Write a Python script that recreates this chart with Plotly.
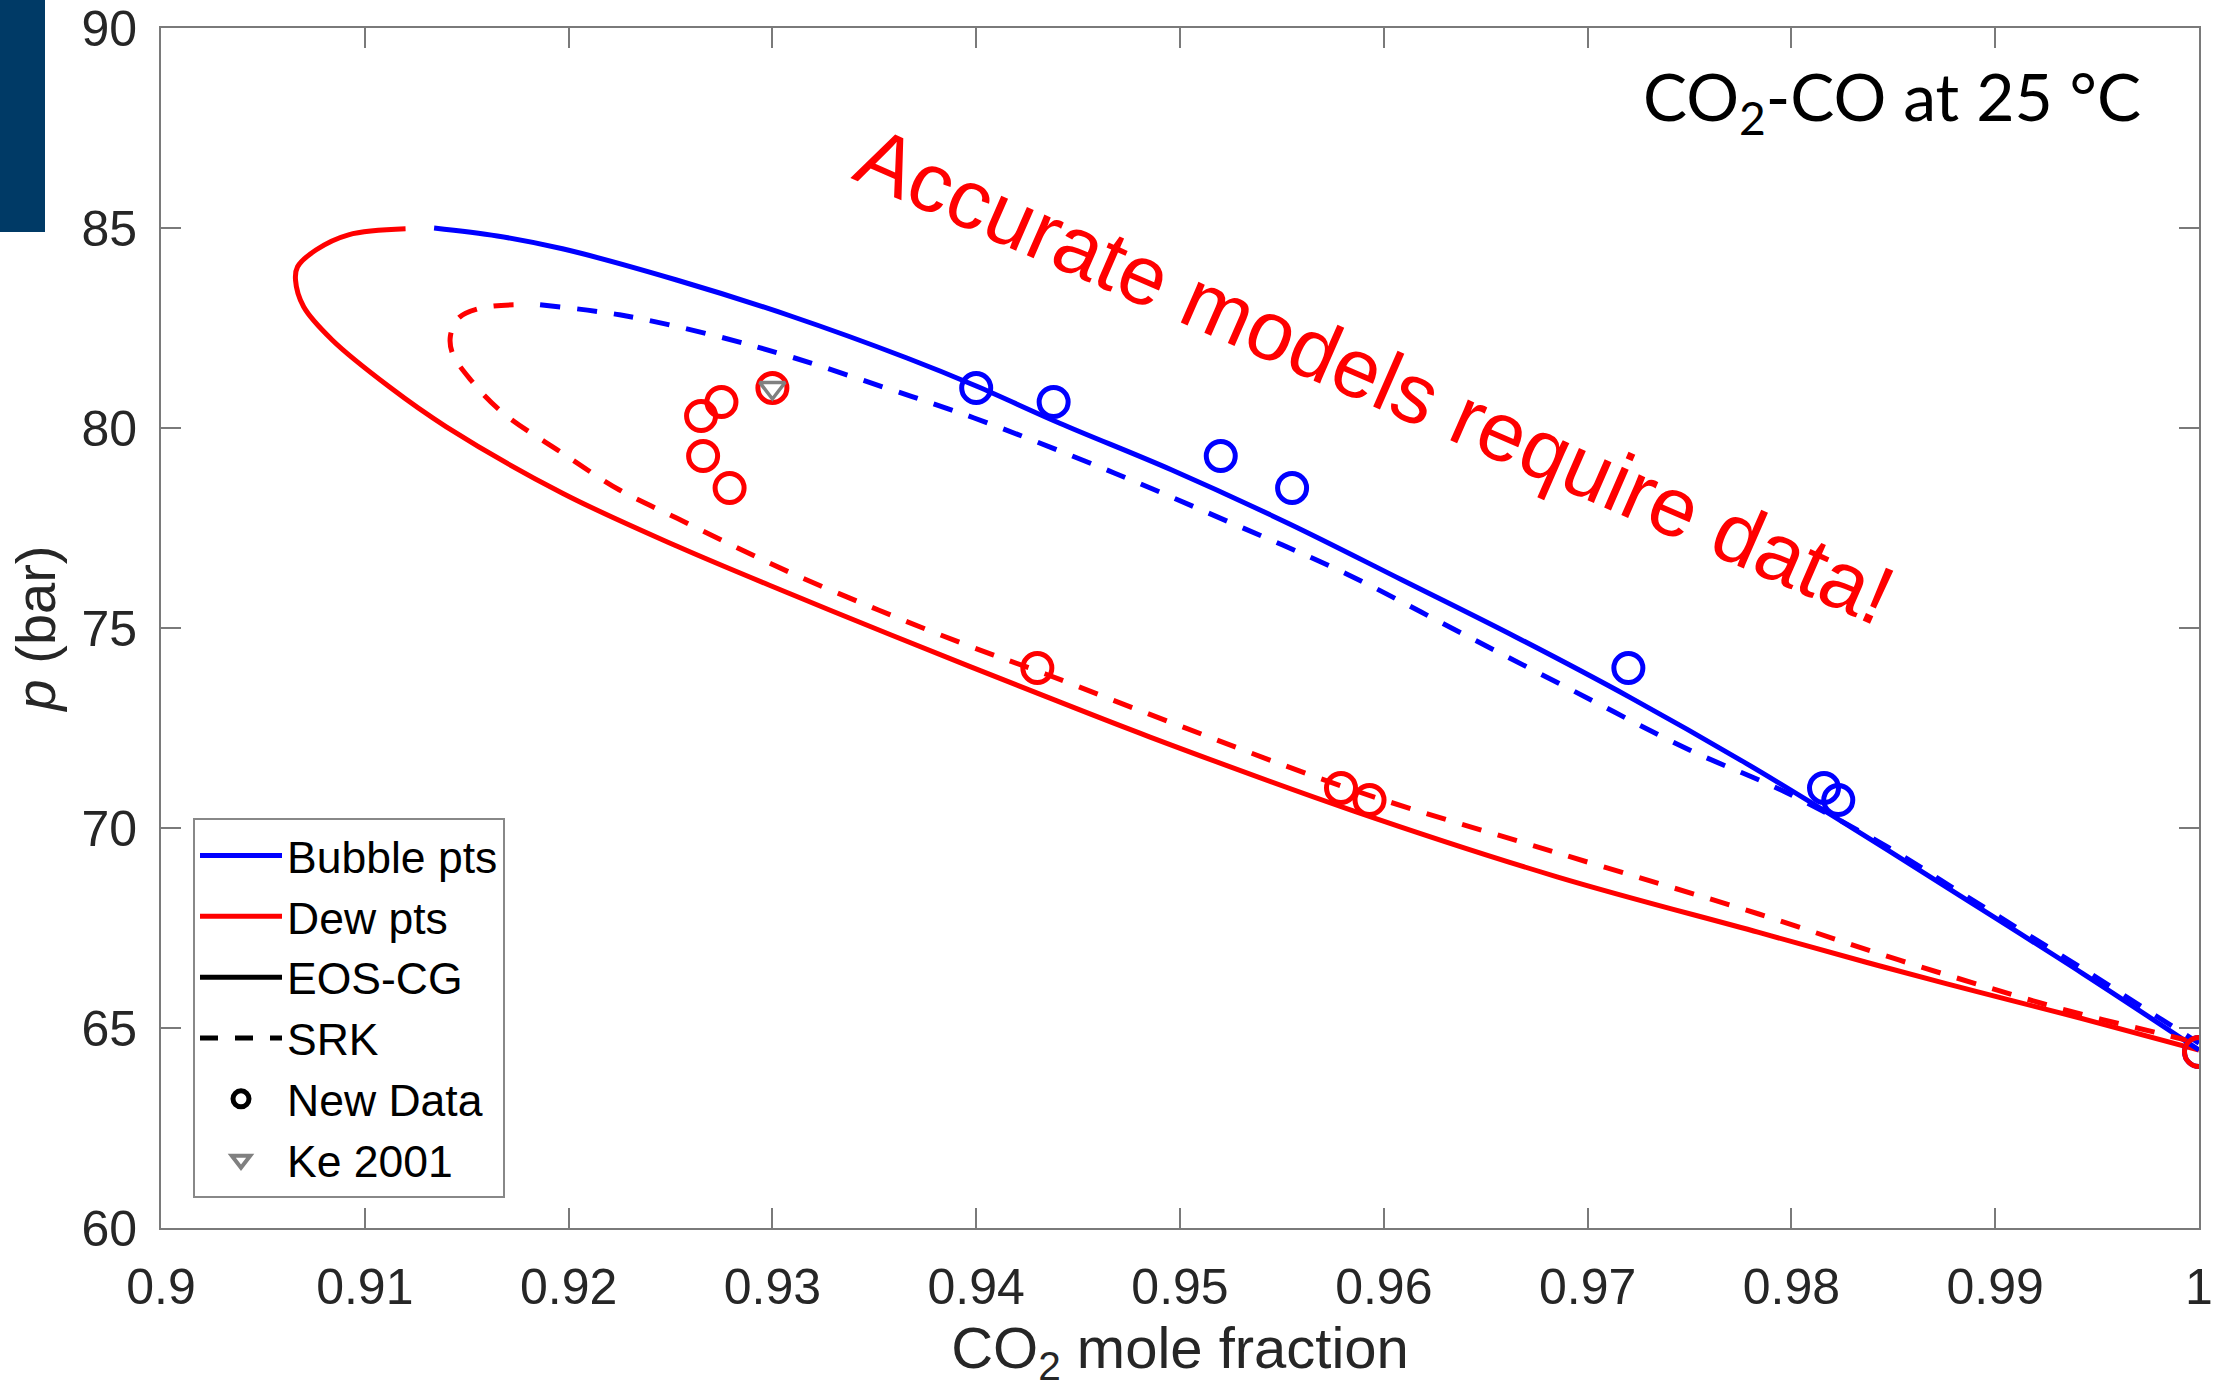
import plotly.graph_objects as go

# ---------------- data ----------------
# EOS-CG bubble line (blue solid)
eos_bub_x = [0.9134, 0.9165, 0.9197, 0.9253, 0.9309, 0.9366, 0.9400, 0.9441, 0.9496, 0.9553,
             0.9609, 0.9665, 0.9721, 0.9778, 0.9829, 0.9878, 0.9943, 1.0]
eos_bub_p = [85.0, 84.8, 84.48, 83.7, 82.8, 81.75, 81.05, 80.12, 78.95, 77.62,
             76.2, 74.77, 73.26, 71.61, 70.03, 68.46, 66.36, 64.45]
# EOS-CG dew line (red solid)
eos_dew_x = [0.9120, 0.9092, 0.9076, 0.9067, 0.9066, 0.9070, 0.9084, 0.9112, 0.9140, 0.9197,
             0.9253, 0.9309, 0.9358, 0.9434, 0.9485, 0.9585, 0.9685, 0.9784, 0.98435, 0.98925,
             0.99416, 1.0]
eos_dew_p = [84.98, 84.83, 84.45, 84.03, 83.7, 83.03, 82.2, 81.03, 80.03, 78.37,
             77.05, 75.85, 74.83, 73.29, 72.28, 70.43, 68.78, 67.39, 66.55, 65.89,
             65.25, 64.45]
# SRK bubble line (blue dashed)
srk_bub_x = [0.9186, 0.9225, 0.9270, 0.9309, 0.9354, 0.9399, 0.9468, 0.9525, 0.9581, 0.9637,
             0.9693, 0.9750, 0.9797, 0.9848, 0.9881, 0.9914, 0.9947, 0.9979, 1.0]
srk_bub_p = [83.08, 82.83, 82.33, 81.78, 81.03, 80.25, 78.87, 77.63, 76.37, 74.9,
             73.43, 71.95, 70.9, 69.5, 68.45, 67.4, 66.35, 65.3, 64.62]
# SRK dew line (red dashed)
srk_dew_x = [0.9173, 0.9157, 0.9146, 0.9142, 0.9143, 0.9152, 0.9168, 0.9197, 0.9225, 0.9253,
             0.9281, 0.9309, 0.9352, 0.9394, 0.9434, 0.9496, 0.9585, 0.9685, 0.9784, 0.98435,
             0.98974, 0.99367, 0.99794, 1.0]
srk_dew_p = [83.08, 83.0, 82.75, 82.3, 81.87, 81.2, 80.37, 79.37, 78.45, 77.75,
             77.05, 76.38, 75.45, 74.6, 73.85, 72.63, 70.95, 69.38, 67.85, 66.85,
             66.0, 65.42, 64.88, 64.62]
# New data, bubble points (blue circles)
new_bub_x = [0.9400, 0.9438, 0.9520, 0.9555, 0.9720, 0.9816, 0.9823, 1.0]
new_bub_p = [81.0, 80.65, 79.3, 78.5, 74.0, 71.0, 70.7, 64.4]
# New data, dew points (red circles)
new_dew_x = [0.9300, 0.9275, 0.9265, 0.9266, 0.9279, 0.9430, 0.9579, 0.9593, 1.0]
new_dew_p = [81.0, 80.65, 80.3, 79.3, 78.5, 74.0, 71.0, 70.7, 64.4]
# Ke 2001 (grey triangle)
ke_x = [0.9300]
ke_p = [81.0]

x_ticks = [0.90, 0.91, 0.92, 0.93, 0.94, 0.95, 0.96, 0.97, 0.98, 0.99, 1.0]
x_ticktext = ["0.9", "0.91", "0.92", "0.93", "0.94", "0.95", "0.96", "0.97", "0.98", "0.99", "1"]
y_ticks = [60, 65, 70, 75, 80, 85, 90]
y_ticktext = ["60", "65", "70", "75", "80", "85", "90"]

legend_names = ["Bubble pts", "Dew pts", "EOS-CG", "SRK", "New Data", "Ke 2001"]

# ---------------- styles ----------------
BLUE = "#0000FF"
RED = "#FF0000"
GREY = "#808080"
AXC = "#7a7a7a"
TXT = "#262626"
FONT = "Liberation Sans, Arial, sans-serif"
LW = 5
DASH = "20px,17px"

fig = go.Figure()


def add_line(x, y, color, dash):
    fig.add_trace(go.Scatter(
        x=x, y=y, mode="lines",
        line=dict(color=color, width=LW, dash=dash, shape="spline", smoothing=1.0),
        showlegend=False, hoverinfo="skip"))


add_line(eos_dew_x, eos_dew_p, RED, "solid")
add_line(eos_bub_x, eos_bub_p, BLUE, "solid")
add_line(srk_dew_x, srk_dew_p, RED, DASH)
add_line(srk_bub_x, srk_bub_p, BLUE, DASH)

fig.add_trace(go.Scatter(
    x=new_bub_x, y=new_bub_p, mode="markers",
    marker=dict(symbol="circle-open", size=29, color=BLUE, line=dict(width=5)),
    showlegend=False, hoverinfo="skip"))
fig.add_trace(go.Scatter(
    x=new_dew_x, y=new_dew_p, mode="markers",
    marker=dict(symbol="circle-open", size=29, color=RED, line=dict(width=5)),
    showlegend=False, hoverinfo="skip"))
fig.add_trace(go.Scatter(
    x=ke_x, y=ke_p, mode="markers",
    marker=dict(symbol="triangle-down-open", size=22, color=GREY, line=dict(width=3.5)),
    showlegend=False, hoverinfo="skip"))

# legend entries
fig.add_trace(go.Scatter(x=[None], y=[None], mode="lines", name=legend_names[0],
                         line=dict(color=BLUE, width=LW)))
fig.add_trace(go.Scatter(x=[None], y=[None], mode="lines", name=legend_names[1],
                         line=dict(color=RED, width=LW)))
fig.add_trace(go.Scatter(x=[None], y=[None], mode="lines", name=legend_names[2],
                         line=dict(color="black", width=LW)))
fig.add_trace(go.Scatter(x=[None], y=[None], mode="lines", name=legend_names[3],
                         line=dict(color="black", width=LW, dash="18px,17px")))
fig.add_trace(go.Scatter(x=[None], y=[None], mode="markers", name=legend_names[4],
                         marker=dict(symbol="circle-open", size=16, color="black", line=dict(width=5))))
fig.add_trace(go.Scatter(x=[None], y=[None], mode="markers", name=legend_names[5],
                         marker=dict(symbol="triangle-down-open", size=16, color=GREY, line=dict(width=4))))

W, H = 2215, 1398
L, R, T, B = 161, 16, 28, 170
pw, ph = W - L - R, H - T - B

fig.update_layout(
    width=W, height=H,
    margin=dict(l=L, r=R, t=T, b=B, pad=0),
    paper_bgcolor="white", plot_bgcolor="white",
    font=dict(family=FONT, color=TXT, size=50),
    showlegend=True,
    legend=dict(
        x=(193 - L) / pw, y=(H - B - 1198) / ph, xanchor="left", yanchor="bottom",
        bgcolor="white", bordercolor="#888888", borderwidth=2,
        font=dict(family=FONT, size=44.5, color="black"),
        tracegroupgap=0, itemsizing="trace", itemwidth=82,
    ),
    xaxis=dict(
        range=[0.9, 1.0], tickvals=x_ticks, ticktext=x_ticktext,
        showgrid=False, zeroline=False,
        showline=True, linecolor=AXC, linewidth=2, mirror="ticks",
        ticks="inside", ticklen=20, tickwidth=2, tickcolor=AXC,
        tickfont=dict(family=FONT, size=50, color=TXT),
        ticklabelstandoff=14,
        title=dict(text="CO<sub>2</sub> mole fraction", font=dict(family=FONT, size=58, color=TXT),
                   standoff=8),
        automargin=False, fixedrange=True,
    ),
    yaxis=dict(
        range=[60, 90], tickvals=y_ticks, ticktext=y_ticktext,
        showgrid=False, zeroline=False,
        showline=True, linecolor=AXC, linewidth=2, mirror="ticks",
        ticks="inside", ticklen=20, tickwidth=2, tickcolor=AXC,
        tickfont=dict(family=FONT, size=50, color=TXT),
        ticklabelstandoff=12,
        title=dict(text="<i>p</i> (bar)", font=dict(family=FONT, size=56, color=TXT),
                   standoff=8),
        automargin=False, fixedrange=True,
    ),
    shapes=[dict(type="rect", xref="paper", yref="paper",
                 x0=(0 - L) / pw, x1=(45 - L) / pw,
                 y0=(H - B - 232) / ph, y1=(H - B - 0) / ph,
                 fillcolor="#003A66", line=dict(width=0), layer="above")],
    annotations=[
        dict(text="CO<sub>2</sub>-CO at 25 °C", xref="paper", yref="paper",
             x=(2143 - L) / pw, y=(H - B - 100) / ph, xanchor="right", yanchor="middle",
             showarrow=False, font=dict(family="Lato, Open Sans, sans-serif", size=66, color="black")),
        dict(text="Accurate models require data!", xref="x", yref="y",
             x=0.9596, y=81.3, xanchor="center", yanchor="middle", textangle=23.6,
             showarrow=False, font=dict(family=FONT, size=84, color=RED)),
    ],
)

fig.write_html("out.html")
